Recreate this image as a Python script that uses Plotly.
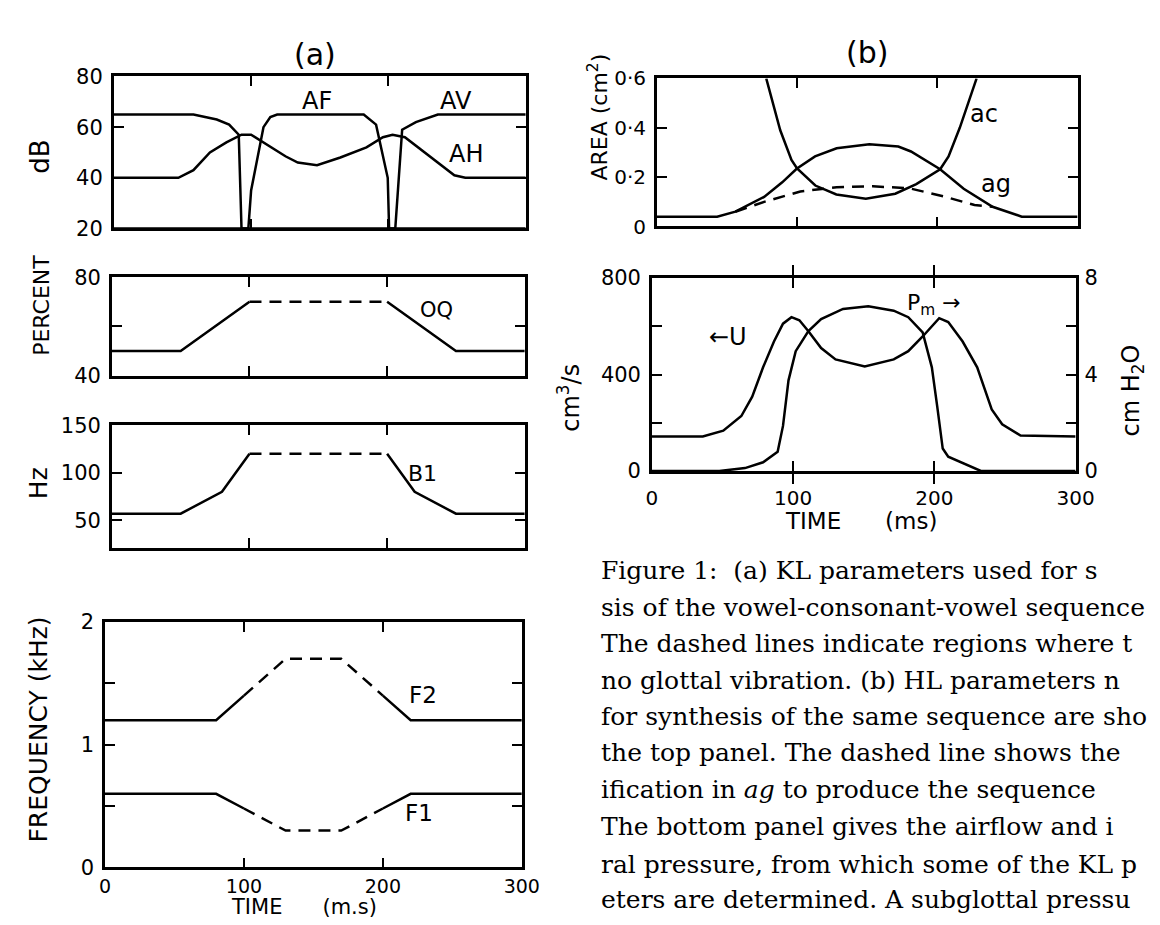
import plotly.graph_objects as go

W, H = 1160, 925

# ---------------- data (time in ms) ----------------
time_ticks = [0, 100, 200, 300]

# (a) dB panel
t_AV = [0, 58, 75, 84, 91, 93, 205, 210, 220, 236, 300]
AV = [65, 65, 63, 61, 57, 20, 20, 59, 62, 65, 65]
t_AF = [0, 98, 100, 109, 114, 119, 182, 191, 199.5, 200.5, 300]
AF = [20, 20, 35, 60, 64, 65, 65, 61, 40, 20, 20]
t_AH = [0, 47, 58, 70, 82, 93, 100, 110, 125, 134, 148, 165, 184, 196, 203, 212, 224, 236, 248, 256, 300]
AH = [40, 40, 43, 50, 54, 57, 57, 53.5, 48.5, 46, 45, 48, 52, 56, 57, 56, 51, 46, 41, 40, 40]

# (a) OQ percent
t_OQ = [0, 50, 100, 200, 250, 300]
OQ = [50, 50, 70, 70, 50, 50]

# (a) B1 Hz
t_B1 = [0, 50, 80, 100, 200, 220, 250, 300]
B1 = [57, 57, 80, 120, 120, 80, 57, 57]

# (a) formants kHz
t_F = [0, 80, 100, 130, 170, 200, 220, 300]
F2 = [1.2, 1.2, 1.4, 1.7, 1.7, 1.4, 1.2, 1.2]
F1 = [0.6, 0.6, 0.48, 0.3, 0.3, 0.48, 0.6, 0.6]

# voiceless (dashed) interval
unvoiced = (100, 200)

# (b) areas cm^2
t_ac = [78, 88, 96, 100, 113, 128, 149, 170, 185, 202, 208, 216, 228]
ac = [0.60, 0.39, 0.27, 0.235, 0.166, 0.13, 0.113, 0.133, 0.172, 0.232, 0.284, 0.40, 0.60]
t_ag = [0, 43, 56, 76.5, 89.4, 99.7, 112.8, 128.2, 151.5, 172.2, 181.2, 202, 218.8, 239.4, 260.2, 300]
ag = [0.04, 0.04, 0.06, 0.12, 0.179, 0.234, 0.284, 0.317, 0.333, 0.324, 0.304, 0.232, 0.153, 0.08, 0.04, 0.04]
t_ag_mod = [56, 76.5, 102.3, 128.2, 154, 180, 205.9, 226.5, 239.4]
ag_mod = [0.06, 0.10, 0.142, 0.159, 0.163, 0.155, 0.12, 0.087, 0.08]

# (b) airflow U (cm^3/s) and pressure Pm (cm H2O)
t_U = [0, 36, 50.5, 63.3, 71, 78.7, 86.4, 92.8, 98.8, 104.4, 110.8, 119.8, 130, 150.7, 171.2, 181.5,
       191.7, 203.4, 209.8, 220, 230.3, 240.6, 248, 261, 300]
U = [143, 143, 167, 228, 308, 430, 537, 611, 638, 625, 580, 510, 463, 434, 463, 497,
     558, 634, 618, 537, 430, 255, 194, 147, 143]
t_P = [0, 47.7, 65.9, 78.7, 89, 92.8, 96.7, 101.8, 110.8, 119.8, 135.3, 153.2, 171.2, 181.5,
       191.7, 198.2, 202, 205.9, 209.8, 222.6, 232.9, 300]
Pm = [0, 0, 0.12, 0.36, 0.8, 1.87, 3.76, 4.97, 5.8, 6.3, 6.72, 6.83, 6.65, 6.38,
      5.75, 4.3, 2.68, 0.93, 0.59, 0.26, 0, 0]

caption_lines = [
    "Figure 1:  (a) KL parameters used for s",
    "sis of the vowel-consonant-vowel sequence",
    "The dashed lines indicate regions where t",
    "no glottal vibration. (b) HL parameters n",
    "for synthesis of the same sequence are sho",
    "the top panel. The dashed line shows the",
    "ification in <i>ag</i> to produce the sequence",
    "The bottom panel gives the airflow and i",
    "ral pressure, from which some of the KL p",
    "eters are determined. A subglottal pressu",
]

# ---------------- helpers ----------------
HAND = "DejaVu Sans"
SERIF = "DejaVu Serif"
LW = 2.5


def xd(a, b):
    return [a / W, b / W]


def yd(top, bot):
    return [1 - bot / H, 1 - top / H]


def px(x):
    return x / W


def py(y):
    return 1 - y / H


def split_voicing(t, v):
    """Split a piecewise-linear track into voiced (solid) / unvoiced (dashed) parts."""
    a, b = unvoiced
    pre = [(ti, vi) for ti, vi in zip(t, v) if ti <= a]
    mid = [(ti, vi) for ti, vi in zip(t, v) if a <= ti <= b]
    post = [(ti, vi) for ti, vi in zip(t, v) if ti >= b]
    return pre, mid, post


fig = go.Figure()


def line(x, y, xa, ya, dash="solid"):
    fig.add_trace(go.Scatter(x=x, y=y, mode="lines", xaxis=xa, yaxis=ya,
                             line=dict(color="black", width=LW, dash=dash),
                             hoverinfo="skip", showlegend=False))


def voiced_line(t, v, xa, ya):
    pre, mid, post = split_voicing(t, v)
    for seg, d in ((pre, "solid"), (mid, "12px,8px"), (post, "solid")):
        line([p[0] for p in seg], [p[1] for p in seg], xa, ya, d)


# (a) panels
line(t_AV, AV, "x", "y")
line(t_AF, AF, "x", "y")
line(t_AH, AH, "x", "y")
voiced_line(t_OQ, OQ, "x2", "y2")
voiced_line(t_B1, B1, "x3", "y3")
voiced_line(t_F, F2, "x4", "y4")
voiced_line(t_F, F1, "x4", "y4")

# (b) panels
line(t_ac, ac, "x5", "y5")
line(t_ag, ag, "x5", "y5")
line(t_ag_mod, ag_mod, "x5", "y5", "12px,8px")
line(t_U, U, "x6", "y6")
line(t_P, Pm, "x6", "y7")


def tickfont(size=21):
    return dict(family=HAND, size=size, color="black")


TICK = dict(showline=True, linecolor="black", linewidth=LW, mirror="allticks",
            ticks="inside", ticklen=10, tickwidth=2, tickcolor="black",
            showgrid=False, zeroline=False)


def minor(vals):
    return dict(tickvals=vals, ticks="inside", ticklen=10, tickwidth=2,
                tickcolor="black", showgrid=False)


def xaxis(dom, anchor, labels=False, standoff=4, size=20):
    return dict(domain=dom, range=[0, 300], tickvals=time_ticks, anchor=anchor,
                ticktext=[str(v) for v in time_ticks], showticklabels=labels,
                tickfont=tickfont(size), ticklabelstandoff=standoff, **TICK)


def yaxis(dom, rng, vals, text, anchor, minor_vals=None, size=21):
    d = dict(domain=dom, range=rng, tickvals=vals, ticktext=text, anchor=anchor,
             tickfont=tickfont(size), ticklabelstandoff=4, **TICK)
    if minor_vals:
        d["minor"] = minor(minor_vals)
    return d


layout = dict(
    width=W, height=H, margin=dict(l=0, r=0, t=0, b=0),
    paper_bgcolor="white", plot_bgcolor="white", showlegend=False,
    xaxis=xaxis(xd(102, 523), "y"),
    yaxis=yaxis(yd(58, 214), [20, 80], [20, 40, 60, 80], ["20", "40", "60", "80"], "x"),
    xaxis2=xaxis(xd(100, 522), "y2"),
    yaxis2=yaxis(yd(264, 365), [40, 80], [40, 80], ["40", "80"], "x2", [60]),
    xaxis3=xaxis(xd(100, 522), "y3"),
    yaxis3=yaxis(yd(416, 542), [21, 150], [50, 100, 150], ["50", "100", "150"], "x3"),
    xaxis4=xaxis(xd(93, 519), "y4", labels=True, standoff=0, size=19),
    yaxis4=yaxis(yd(618, 870), [0, 2], [0, 1, 2], ["0", "1", "2"], "x4", [0.5, 1.5]),
    xaxis5=xaxis(xd(657, 1087), "y5"),
    yaxis5=yaxis(yd(60, 212), [0, 0.6], [0, 0.2, 0.4, 0.6], ["0", "0·2", "0·4", "0·6"], "x5", size=20),
    xaxis6=xaxis(xd(652, 1085), "y6", labels=True, standoff=7),
    yaxis6=yaxis(yd(265, 463), [0, 800], [0, 400, 800], ["0", "400", "800"], "x6", [200, 600]),
    yaxis7=dict(domain=yd(265, 463), range=[0, 8], overlaying="y6", anchor="x6", side="right",
                tickvals=[0, 4, 8], ticktext=["0", "4", "8"], ticks="", showline=False,
                showgrid=False, zeroline=False, tickfont=tickfont(21), ticklabelstandoff=8),
)
fig.update_layout(**layout)

ann = []


def text(x, y, s, size=24, angle=0, family=HAND, xanchor="center"):
    ann.append(dict(x=px(x), y=py(y), xref="paper", yref="paper", text=s, showarrow=False,
                    textangle=angle, xanchor=xanchor, yanchor="middle",
                    font=dict(family=family, size=size, color="black")))


# panel headings
text(308, 35, "(a)", 30)
text(872, 33, "(b)", 30)
# axis titles
text(27, 140, "dB", 26, -90)
text(28, 293, "PERCENT", 22, -90)
text(25, 475, "Hz", 25, -90)
text(25, 728, "FREQUENCY (kHz)", 25, -90)
text(597, 100, "AREA (cm<sup>2</sup>)", 22, -90)
text(567, 388, "cm<sup>3</sup>/s", 24, -90)
text(1143, 380, "cm H<sub>2</sub>O", 24, -90)
text(296, 911, "TIME      (m.s)", 21)
text(866, 514, "TIME      (ms)", 23)
# curve labels
text(310, 83, "AF", 24)
text(452, 83, "AV", 24)
text(462, 138, "AH", 24)
text(432, 298, "OQ", 21)
text(418, 466, "B1", 22)
text(418, 693, "F2", 23)
text(414, 814, "F1", 23)
text(991, 96, "ac", 24)
text(1004, 168, "ag", 24)
text(730, 325, "←U", 24)
text(940, 292, "P<sub>m</sub> →", 22)

# caption
cap_y = [565, 603, 640, 678, 715, 752, 790, 828, 867, 903]
for yy, s in zip(cap_y, caption_lines):
    text(598, yy, s, 25, 0, SERIF, "left")

fig.update_layout(annotations=ann)
fig.write_html("out.html")
